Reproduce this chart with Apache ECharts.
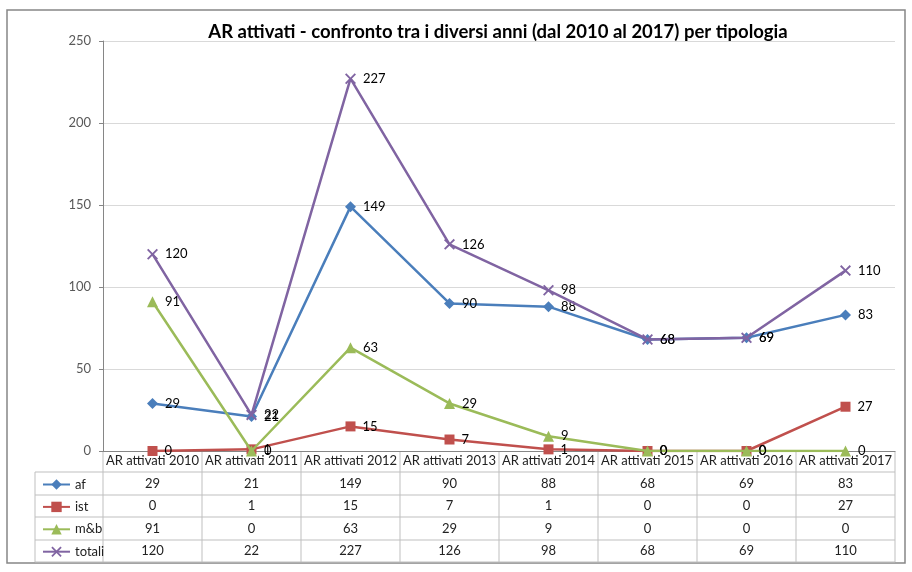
<!DOCTYPE html>
<html><head><meta charset="utf-8">
<script src="https://cdn.jsdelivr.net/npm/echarts@6/dist/echarts.min.js"></script>
<style>html,body{margin:0;padding:0;background:#fff}#c{width:912px;height:572px}</style>
</head><body><div id="c"></div>
<script>
const categories = ["AR attivati 2010","AR attivati 2011","AR attivati 2012","AR attivati 2013","AR attivati 2014","AR attivati 2015","AR attivati 2016","AR attivati 2017"];
const seriesNames = ["af","ist","m&b","totali"];
const af = [29,21,149,90,88,68,69,83];
const ist = [0,1,15,7,1,0,0,27];
const mb = [91,0,63,29,9,0,0,0];
const totali = [120,22,227,126,98,68,69,110];
const yTicks = [0,50,100,150,200,250];

const rows = [af, ist, mb, totali];
const colors = ["#4A7EBB","#C0504D","#9BBB59","#8064A2"];
const symbols = ["diamond","rect","triangle","path://M0,1.2L1.2,0L5,3.8L8.8,0L10,1.2L6.2,5L10,8.8L8.8,10L5,6.2L1.2,10L0,8.8L3.8,5Z"];
const symSizes = [11, 10, 11, 11];
const FONT = "Lato, 'Open Sans', sans-serif";

const G = {left:103, right:895, top:41, bottom:451};
const rowTops = [472, 495, 517, 540, 562];
const tableLeft = 35;

const chart = echarts.init(document.getElementById('c'));
const colW = (G.right - G.left) / categories.length;

const graphics = [];
graphics.push({type:'rect', shape:{x:7,y:10,width:898,height:553}, style:{fill:'none', stroke:'#868686', lineWidth:1.5}, z:-1});
const lineStyle = {stroke:'#BFBFBF', lineWidth:1};
rowTops.forEach(y => graphics.push({type:'line', shape:{x1:tableLeft,y1:y,x2:G.right,y2:y}, style:lineStyle}));
graphics.push({type:'line', shape:{x1:tableLeft,y1:rowTops[0],x2:tableLeft,y2:rowTops[4]}, style:lineStyle});
for (let k = 0; k <= categories.length; k++) {
  const x = G.left + colW * k;
  graphics.push({type:'line', shape:{x1:x,y1:G.bottom,x2:x,y2:rowTops[4]}, style:lineStyle});
}

const xAxes = [{
  type:'category', data:categories, boundaryGap:true, gridIndex:0,
  axisLine:{show:true, lineStyle:{color:'#868686'}},
  axisTick:{show:false},
  axisLabel:{interval:0, color:'#222', fontSize:13, fontFamily:FONT, margin:10, verticalAlign:'middle'}
}];
rows.forEach((r, i) => {
  const center = (rowTops[i] + rowTops[i+1]) / 2;
  xAxes.push({
    type:'category', data:categories, position:'bottom', offset: center - G.bottom, gridIndex:0,
    axisLine:{show:false}, axisTick:{show:false}, splitLine:{show:false},
    axisLabel:{interval:0, margin:0, verticalAlign:'middle', color:'#222', fontSize:13, fontFamily:FONT,
      formatter:(v, idx) => String(r[idx])}
  });
});

chart.setOption({
  animation:false,
  title:{text:"AR attivati - confronto tra i diversi anni (dal 2010 al 2017) per tipologia",
    left:493, textAlign:'center', top:18,
    textStyle:{fontFamily:FONT, fontSize:18.5, fontWeight:'bold', color:'#000'}},
  grid:{left:G.left, top:G.top, width:G.right-G.left, height:G.bottom-G.top, containLabel:false},
  legend:{orient:'vertical', left:37, top:473, itemWidth:27, itemHeight:13, itemGap:9.4,
    textStyle:{fontFamily:FONT, fontSize:13, color:'#222'}, data:seriesNames},
  xAxis:xAxes,
  yAxis:{type:'value', min:yTicks[0], max:yTicks[yTicks.length-1], interval:50,
    axisLine:{show:true, lineStyle:{color:'#868686'}},
    axisTick:{show:true, length:4, lineStyle:{color:'#868686'}},
    axisLabel:{color:'#595959', fontSize:13, fontFamily:FONT, margin:12},
    splitLine:{lineStyle:{color:'#D9D9D9'}}},
  graphic:graphics,
  series: rows.map((r, i) => ({
    name:seriesNames[i], type:'line', data:r, xAxisIndex:0,
    symbol:symbols[i], symbolSize:symSizes[i], showAllSymbol:true,
    lineStyle:{color:colors[i], width:2.5},
    itemStyle:{color:colors[i]},
    label:{show:true, position:'right', distance:7, color:'#000', fontSize:13, fontFamily:FONT},
    z: 2 + i
  }))
});
</script></body></html>
